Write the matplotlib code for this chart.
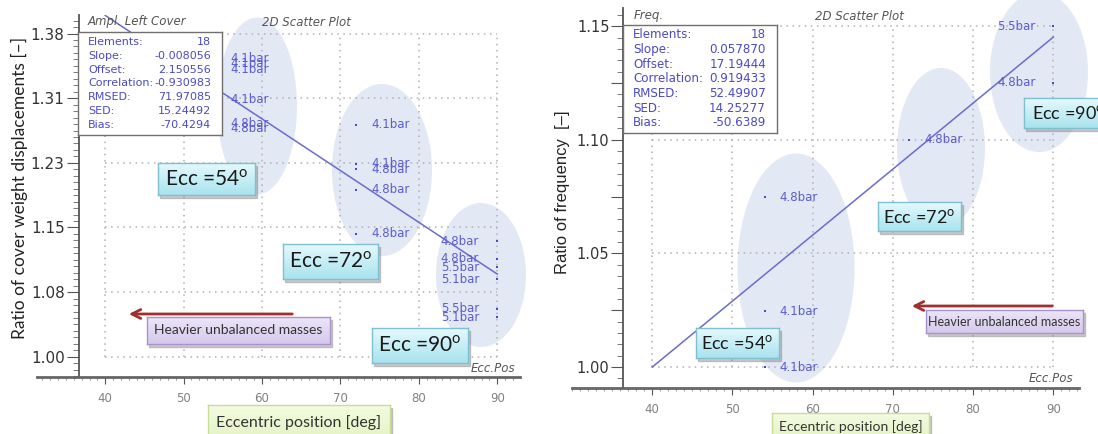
import numpy as np
import matplotlib.pyplot as plt
from matplotlib.patches import Ellipse, Rectangle, FancyArrowPatch
from matplotlib.colors import LinearSegmentedColormap
from matplotlib.ticker import AutoMinorLocator, MultipleLocator

W, H = 1098, 434

# ---- left panel: ratio of cover weight displacements ----
cover_ecc = [54, 54, 54, 54, 54, 54, 72, 72, 72, 72, 72, 90, 90, 90, 90, 90, 90]
cover_ratio = [1.353, 1.347, 1.340, 1.305, 1.277, 1.270,
               1.275, 1.229, 1.222, 1.198, 1.146,
               1.137, 1.116, 1.106, 1.092, 1.057, 1.047]
cover_bar = ['4.1bar', '4.1bar', '4.1bar', '4.1bar', '4.8bar', '4.8bar',
             '4.1bar', '4.1bar', '4.8bar', '4.8bar', '4.8bar',
             '4.8bar', '4.8bar', '5.5bar', '5.1bar', '5.5bar', '5.1bar']
cover_fit_x = [40, 90]
cover_fit_y = [1.4045, 1.098]
cover_yticks = [1.00, 1.0766, 1.1532, 1.2298, 1.3064, 1.383]
cover_yticklabels = ['1.00', '1.08', '1.15', '1.23', '1.31', '1.38']
cover_stats = [('Elements:', '18'), ('Slope:', '-0.008056'), ('Offset:', '2.150556'),
               ('Correlation:', '-0.930983'), ('RMSED:', '71.97085'), ('SED:', '15.24492'),
               ('Bias:', '-70.4294')]

# ---- right panel: ratio of frequency ----
freq_ecc = [54, 54, 54, 72, 90, 90]
freq_ratio = [1.0748, 1.0246, 1.000, 1.100, 1.150, 1.125]
freq_bar = ['4.8bar', '4.1bar', '4.1bar', '4.8bar', '5.5bar', '4.8bar']
freq_fit_x = [40, 90]
freq_fit_y = [1.000, 1.1452]
freq_yticks = [1.00, 1.025, 1.05, 1.075, 1.10, 1.125, 1.15]
freq_yticklabels = ['1.00', '', '1.05', '', '1.10', '', '1.15']
freq_stats = [('Elements:', '18'), ('Slope:', '0.057870'), ('Offset:', '17.19444'),
              ('Correlation:', '0.919433'), ('RMSED:', '52.49907'), ('SED:', '14.25277'),
              ('Bias:', '-50.6389')]

xticks = [40, 50, 60, 70, 80, 90]

BLUE = '#4a4ac8'
ELL = '#e2e8f4'
BOXFONT = 'Lato'


def frac(x0, y0, x1, y1):
    # pixel rect (image coords) -> figure fraction rect
    return [x0 / W, 1 - y1 / H, (x1 - x0) / W, (y1 - y0) / H]


def panel(ax, ecc, ratio, bars, fit_x, fit_y, yticks, ylabels, grid_y, xlim, ylim, spine_x, ytsize):
    ax.set_xlim(*xlim)
    ax.set_ylim(*ylim)
    for s in ['top', 'right']:
        ax.spines[s].set_visible(False)
    ax.spines['left'].set_position(('data', spine_x))
    ax.spines['left'].set_color('#555555')
    ax.spines['left'].set_linewidth(1.3)
    ax.spines['bottom'].set_color('#666666')
    ax.spines['bottom'].set_linewidth(2)

    ax.set_xticks(xticks)
    ax.xaxis.set_minor_locator(MultipleLocator(1))
    ax.tick_params(axis='x', which='major', length=5, color='#555555', labelsize=8.5,
                   labelcolor='#808080', pad=6)
    ax.tick_params(axis='x', which='minor', length=2.5, color='#888888')
    ax.set_yticks(yticks)
    ax.set_yticklabels(ylabels)
    ax.tick_params(axis='y', which='major', length=9, color='#555555', labelsize=ytsize,
                   labelcolor='#333333', pad=1)
    ax.tick_params(axis='y', which='minor', length=4, color='#666666')

    # dotted grid only inside data range
    ax.hlines(grid_y, 40, 90, colors='#b0b0b0', linestyles=(0, (1, 3)), lw=1.1, zorder=1)
    ax.vlines(xticks, grid_y[0], grid_y[-1], colors='#b0b0b0', linestyles=(0, (1, 3)), lw=1.1, zorder=1)

    ax.plot(fit_x, fit_y, color='#6b6bd0', lw=1.1, zorder=2)
    ax.scatter(ecc, ratio, marker='s', s=3, color=BLUE, zorder=3, linewidths=0)
    for x, y, b in zip(ecc, ratio, bars):
        if x >= 90:
            ax.annotate(b, (x, y), xytext=(-13, 0), textcoords='offset points', ha='right',
                        va='center', fontsize=8.5, color='#5c5cd0', zorder=3)
        else:
            ax.annotate(b, (x, y), xytext=(11, 0), textcoords='offset points', ha='left',
                        va='center', fontsize=8.5, color='#5c5cd0', zorder=3)


def ellipse(fig, ax, cx, cy, w, h):
    ax.add_patch(Ellipse((cx / W, 1 - cy / H), w / W, h / H, transform=fig.transFigure,
                         fc=ELL, ec='none', zorder=0.5, clip_on=False))


def stats_box(fig, rect, title_rows, size):
    x0, y0, x1, y1 = rect
    bx = fig.add_axes(frac(*rect), zorder=4)
    bx.set_xticks([])
    bx.set_yticks([])
    for s in bx.spines.values():
        s.set_color('#707070')
        s.set_linewidth(1)
    h = y1 - y0
    pad = 10
    step = (h - 2 * pad) / (len(title_rows) - 1)
    for i, (k, v) in enumerate(title_rows):
        yy = 1 - (pad + i * step) / h
        bx.text(10 / (x1 - x0), yy, k, transform=bx.transAxes, ha='left', va='center',
                fontsize=size, color=BLUE)
        bx.text(1 - 11 / (x1 - x0), yy, v, transform=bx.transAxes, ha='right', va='center',
                fontsize=size, color=BLUE)


def callout(fig, rect, text, size, top, bottom, edge, fontsize_color='#1a1a1a', text_x=None):
    x0, y0, x1, y1 = rect
    fig.add_artist(Rectangle(((x0 + 2) / W, 1 - (y1 + 3) / H), (x1 - x0) / W, (y1 - y0) / H,
                             transform=fig.transFigure, color='#8a8a8a', alpha=0.45, zorder=4))
    bx = fig.add_axes(frac(*rect), zorder=5)
    cmap = LinearSegmentedColormap.from_list('g', [top, bottom])
    bx.imshow(np.linspace(0, 1, 60).reshape(-1, 1), aspect='auto', cmap=cmap,
              extent=[0, 1, 0, 1], origin='upper')
    bx.set_xticks([])
    bx.set_yticks([])
    for s in bx.spines.values():
        s.set_color(edge)
        s.set_linewidth(1)
    if text_x is None:
        bx.text(0.5, 0.5, text, transform=bx.transAxes, ha='center', va='center',
                fontsize=size, family=BOXFONT, color=fontsize_color)
    else:
        bx.text((text_x - x0) / (x1 - x0), 0.5, text, transform=bx.transAxes, ha='left',
                va='center', fontsize=size, family=BOXFONT, color=fontsize_color)
    return bx


def arrow(fig, x0, x1, y):
    fig.add_artist(FancyArrowPatch((x0 / W, 1 - y / H), (x1 / W, 1 - y / H),
                                   transform=fig.transFigure, arrowstyle='->',
                                   mutation_scale=16, color='#a03030', lw=2, zorder=4))


def ftext(fig, x, y, s, **kw):
    fig.text(x / W, 1 - y / H, s, **kw)


fig = plt.figure(figsize=(W / 100, H / 100), dpi=100)

# left axes
ax1 = fig.add_axes(frac(37, 15, 520, 377))
panel(ax1, cover_ecc, cover_ratio, cover_bar, cover_fit_x, cover_fit_y,
      cover_yticks, cover_yticklabels, cover_yticks, (31.3, 92.9), (0.976, 1.405), 36.6, 11)
ax1.yaxis.set_minor_locator(AutoMinorLocator(10))
for cx, cy, w, h in [(257, 106, 80, 177), (382, 170, 100, 172), (481, 275, 90, 144)]:
    ellipse(fig, ax1, cx, cy, w, h)

# right axes
ax2 = fig.add_axes(frac(572, 8, 1079, 388))
panel(ax2, freq_ecc, freq_ratio, freq_bar, freq_fit_x, freq_fit_y,
      freq_yticks, freq_yticklabels, [1.00, 1.05, 1.10, 1.15], (30.0, 93.2), (0.9908, 1.158), 36.4, 10.5)
ax2.yaxis.set_minor_locator(AutoMinorLocator(5))
for cx, cy, w, h in [(796, 268, 117, 229), (941, 148, 88, 160), (1039, 72, 98, 160)]:
    ellipse(fig, ax2, cx, cy, w, h)

# stats boxes
stats_box(fig, (78, 32, 222, 135), cover_stats, 8)
stats_box(fig, (623, 25, 777, 133), freq_stats, 8.6)

# small italic captions
cap = dict(fontsize=8.5, style='italic', color='#555555', va='center')
ftext(fig, 88, 22, 'Ampl. Left Cover', ha='left', **cap)
ftext(fig, 262, 22, '2D Scatter Plot', ha='left', **cap)
ftext(fig, 515, 368, 'Ecc.Pos', ha='right', **cap)
ftext(fig, 634, 16, 'Freq.', ha='left', **cap)
ftext(fig, 815, 16, '2D Scatter Plot', ha='left', **cap)
ftext(fig, 1073, 378, 'Ecc.Pos', ha='right', **cap)

# y labels
ftext(fig, 19, 188, 'Ratio of cover weight displacements [\u2013]', rotation=90, ha='center',
      va='center', fontsize=12.5, family=BOXFONT, color='#222222')
ftext(fig, 563, 192, 'Ratio of frequency  [\u2013]', rotation=90, ha='center',
      va='center', fontsize=12, family='Liberation Sans', color='#222222')

# Ecc callouts
cyan = dict(top='#e4f9fd', bottom='#a9e3ee', edge='#7fbfcf')
callout(fig, (158, 163, 255, 195), 'Ecc =54$^{\\mathregular{o}}$', 15, **cyan)
callout(fig, (283, 244, 378, 279), 'Ecc =72$^{\\mathregular{o}}$', 15, **cyan)
callout(fig, (372, 328, 468, 363), 'Ecc =90$^{\\mathregular{o}}$', 15, **cyan)
callout(fig, (696, 328, 779, 358), 'Ecc =54$^{\\mathregular{o}}$', 13, **cyan)
callout(fig, (878, 202, 961, 231), 'Ecc =72$^{\\mathregular{o}}$', 13, **cyan)
callout(fig, (1024, 98, 1115, 128), 'Ecc =90$^{\\mathregular{o}}$', 13, text_x=1032, **cyan)

# heavier unbalanced masses
purple = dict(top='#ece5f7', bottom='#d6c9ec', edge='#a993cf', fontsize_color='#333333')
arrow(fig, 295, 126, 314)
callout(fig, (147, 317, 330, 344), 'Heavier unbalanced masses', 10, **purple)
arrow(fig, 1055, 909, 306)
callout(fig, (926, 310, 1083, 333), 'Heavier unbalanced masses', 9, **purple)

# x label boxes
green = dict(top='#f4fbe2', bottom='#e4f3c3', edge='#c6de96', fontsize_color='#333333')
callout(fig, (208, 405, 390, 440), 'Eccentric position [deg]', 11.5, **green)
callout(fig, (772, 413, 929, 440), 'Eccentric position [deg]', 10, **green)

fig.savefig('out.png', dpi=100)
